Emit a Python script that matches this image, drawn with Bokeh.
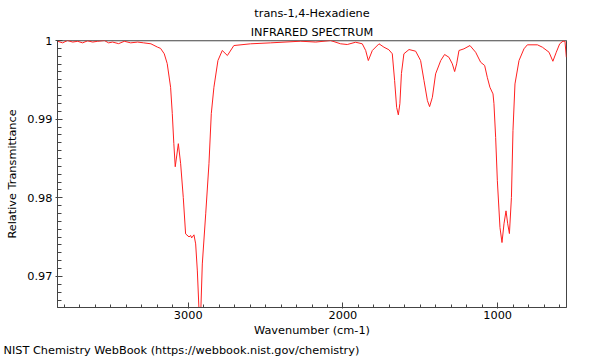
from bokeh.plotting import figure
from bokeh.models import Range1d, FixedTicker, Span, CustomJSTickFormatter, Title
from bokeh.embed import file_html
from bokeh.resources import INLINE

# ---- data ----
wavenumber = [3844, 3812, 3780, 3747, 3715, 3683, 3650, 3618, 3586, 3542,
              3515, 3489, 3450, 3413, 3372, 3327, 3288, 3241, 3198, 3179,
              3155, 3136, 3114, 3103, 3093, 3084, 3064, 3049, 3032, 3017,
              2995, 2984, 2978, 2963, 2952, 2941, 2931, 2924, 2918, 2909,
              2887, 2866, 2851, 2834, 2808, 2780, 2747, 2705, 2597, 2467,
              2273, 2176, 2080, 2015, 1972, 1918, 1875, 1853, 1836, 1810,
              1767, 1735, 1703, 1681, 1666, 1653, 1642, 1632, 1622, 1606,
              1573, 1530, 1498, 1476, 1454, 1440, 1422, 1401, 1368, 1343,
              1315, 1293, 1278, 1265, 1250, 1218, 1179, 1142, 1110, 1084,
              1067, 1050, 1030, 1024, 1013, 1002, 985, 972, 959, 946,
              935, 924, 911, 901, 888, 862, 830, 808, 743, 711,
              668, 643, 621, 599, 578, 565, 556]
transmittance = [0.9999, 0.9997, 1.0, 0.9998, 0.9999, 0.9997, 0.99996, 0.9998, 0.9999, 1.0,
                 0.9997, 0.9998, 0.9996, 0.9999, 0.9997, 0.9998, 0.9997, 0.99958, 0.99915, 0.9990,
                 0.99831, 0.99707, 0.99405, 0.9907, 0.98688, 0.98395, 0.98688, 0.98433, 0.98004, 0.97541,
                 0.97503, 0.9752, 0.9749, 0.97529, 0.97414, 0.9707, 0.96605, 0.9657, 0.96605, 0.97159,
                 0.97796, 0.98433, 0.9907, 0.99405, 0.99745, 0.99873, 0.99809, 0.99936, 0.99958, 0.9997,
                 0.99991, 0.9998, 1.0, 0.99958, 0.99949, 0.99978, 0.99958, 0.99873, 0.99745, 0.99873,
                 0.99958, 0.99915, 0.99882, 0.99831, 0.9949, 0.9915, 0.99054, 0.99197, 0.9958, 0.99831,
                 0.99885, 0.99864, 0.99745, 0.9949, 0.99236, 0.99159, 0.99278, 0.99576, 0.99745, 0.99822,
                 0.99787, 0.99703, 0.99605, 0.99703, 0.99873, 0.99894, 0.99936, 0.9985, 0.99724, 0.99682,
                 0.99532, 0.99405, 0.99321, 0.99197, 0.98768, 0.98217, 0.97622, 0.97431, 0.97669, 0.97834,
                 0.97669, 0.97545, 0.98004, 0.98854, 0.99448, 0.99745, 0.99894, 0.99945, 0.99945, 0.99915,
                 0.99851, 0.99736, 0.99851, 0.99958, 0.99991, 0.99991, 0.99787]

x_major_ticks = [1000, 2000, 3000]
x_minor_ticks = list(range(600, 3900, 100))
y_major_ticks = [0.97, 0.98, 0.99, 1.0]
y_minor_ticks = [round(0.966 + 0.001 * i, 3) for i in range(35)]

title_line1 = "trans-1,4-Hexadiene"
title_line2 = "INFRARED SPECTRUM"
x_label = "Wavenumber (cm-1)"
y_label = "Relative Transmittance"
footer = "NIST Chemistry WebBook (https://webbook.nist.gov/chemistry)"

FONT = "DejaVu Sans"
FS = "11.3px"
AXC = "#444444"

p = figure(width=600, height=360, output_backend="svg", toolbar_location=None,
           x_range=Range1d(3845, 555), y_range=Range1d(0.96605, 1.0),
           min_border_left=57, min_border_right=34, min_border_top=40, min_border_bottom=53,
           background_fill_color="white", border_fill_color="white")
p.grid.visible = False
p.outline_line_color = AXC
p.outline_line_width = 1

p.add_layout(Span(location=1.0, dimension="width", line_color="#a0a0a0", line_width=2,
                  level="underlay"))

p.line(wavenumber, transmittance, line_color="#ff2020", line_width=1)

xa = p.xaxis[0]
xa.ticker = FixedTicker(ticks=x_major_ticks, minor_ticks=x_minor_ticks)
xa.axis_label = x_label
xa.major_tick_in = 5
xa.major_tick_out = 1
xa.minor_tick_in = 3
xa.minor_tick_out = 0
xa.major_label_standoff = 2
xa.axis_label_standoff = 2

ya = p.yaxis[0]
ya.ticker = FixedTicker(ticks=y_major_ticks, minor_ticks=y_minor_ticks)
ya.formatter = CustomJSTickFormatter(code="return String(Number(tick.toFixed(3)));")
ya.axis_label = y_label
ya.major_tick_in = 5
ya.major_tick_out = 2
ya.minor_tick_in = 4
ya.minor_tick_out = 0
ya.major_label_standoff = 3
ya.axis_label_standoff = 5

for ax in (xa, ya):
    ax.axis_line_color = AXC
    ax.major_tick_line_color = AXC
    ax.minor_tick_line_color = AXC
    ax.major_label_text_font = FONT
    ax.major_label_text_font_size = FS
    ax.major_label_text_color = "black"
    ax.axis_label_text_font = FONT
    ax.axis_label_text_font_size = FS
    ax.axis_label_text_font_style = "normal"
    ax.axis_label_text_color = "black"

def make_title(text, **kw):
    return Title(text=text, text_font=FONT, text_font_size=FS, text_font_style="normal",
                 text_color="black", **kw)

p.add_layout(make_title(title_line2, align="center", standoff=3), "above")
p.add_layout(make_title(title_line1, align="center", standoff=5), "above")
p.add_layout(make_title(footer, align="left", offset=-54, standoff=4), "below")

open("out.html", "w").write(file_html(p, INLINE))
